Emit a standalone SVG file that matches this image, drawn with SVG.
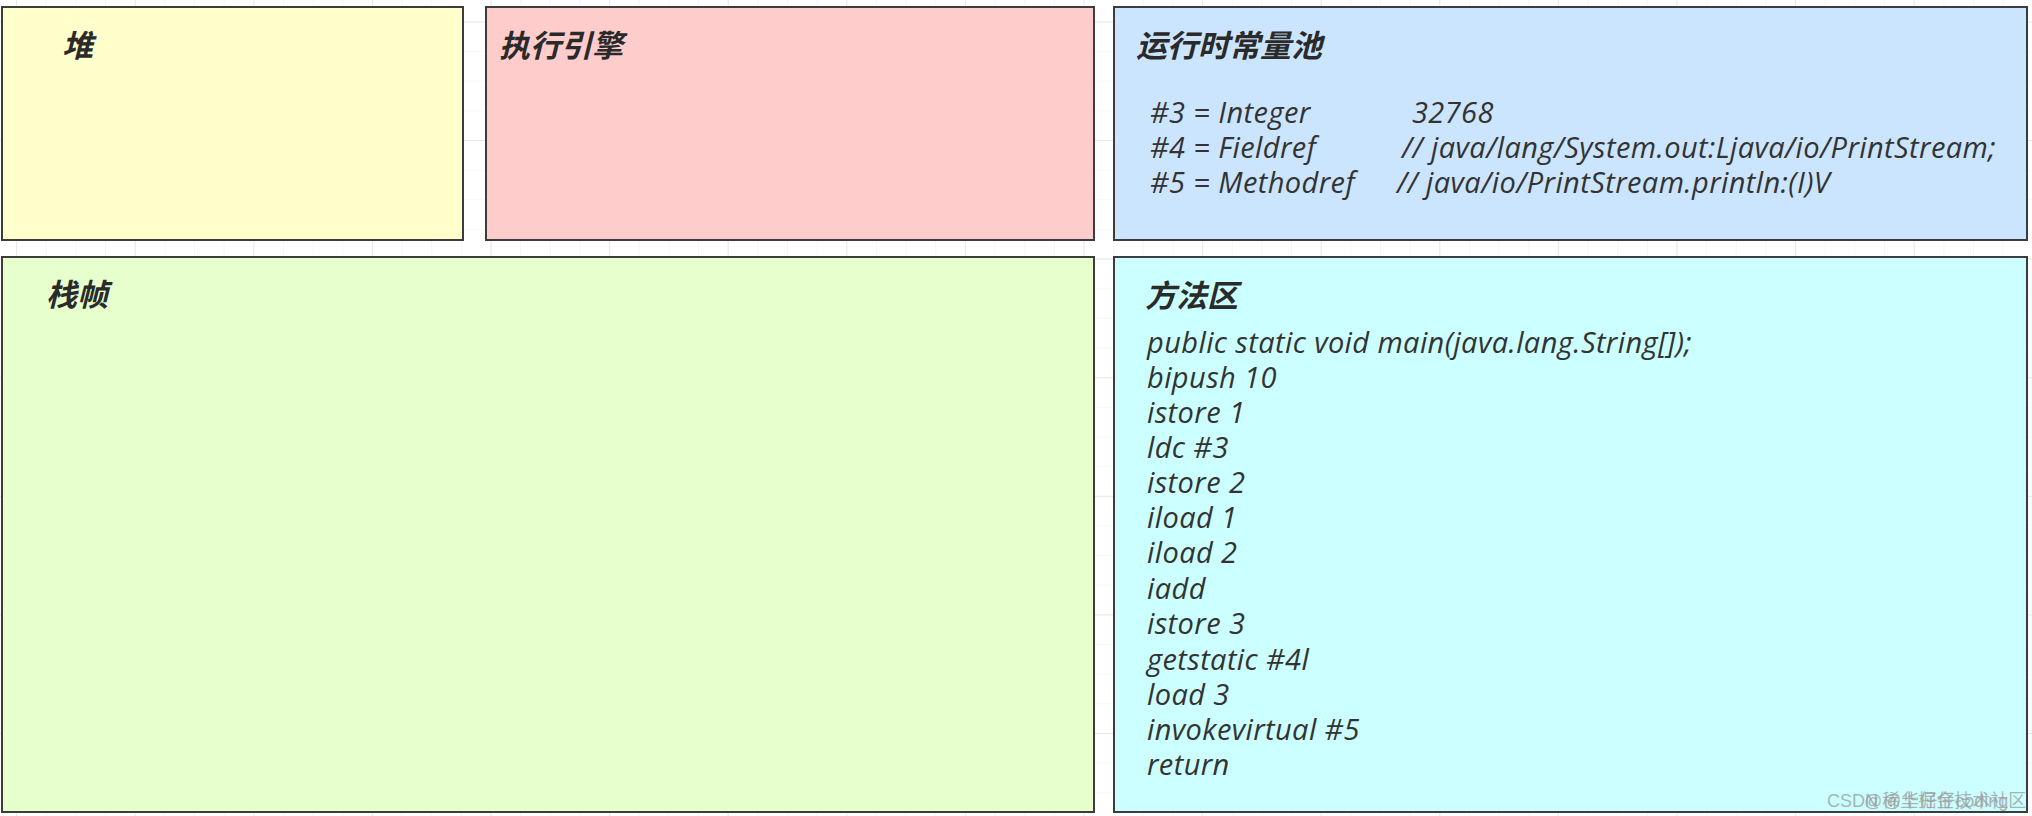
<svg xmlns="http://www.w3.org/2000/svg" width="2032" height="816" viewBox="0 0 2032 816">
  <defs>
    <pattern id="minor" x="16.1" y="21.4" width="29.65" height="29.65" patternUnits="userSpaceOnUse">
      <path d="M0 0 V29.65 M0 0 H29.65" fill="none" stroke="#f1f1f1" stroke-width="1.2"/>
    </pattern>
    <pattern id="major" x="16.1" y="21.4" width="118.6" height="118.6" patternUnits="userSpaceOnUse">
      <path d="M0 0 V118.6 M0 0 H118.6" fill="none" stroke="#e2e2e2" stroke-width="1.4"/>
    </pattern>
    <style>
      .box { stroke: #3c3c3c; stroke-width: 2; }
      .title { font-family: "Noto Sans CJK SC", "Noto Sans CJK TC", sans-serif; font-size: 31px; font-weight: bold; font-style: italic; fill: #2a2a2a; }
      .code { font-family: "Open Sans", "Noto Sans", sans-serif; font-size: 29px; letter-spacing: 0.4px; font-style: italic; fill: #333333; }
      .wm { font-family: "Liberation Sans", "Noto Sans CJK SC", sans-serif; font-size: 18px; fill: #9a9a9a; fill-opacity: 0.75; }
    </style>
  </defs>

  <rect x="0" y="0" width="2032" height="816" fill="#ffffff"/>
  <rect x="0" y="0" width="2032" height="816" fill="url(#minor)"/>
  <rect x="0" y="0" width="2032" height="816" fill="url(#major)"/>

  <g id="heap">
    <rect class="box" x="2" y="7" width="461" height="233" fill="#FFFFCC"/>
    <text class="title" x="62" y="57">堆</text>
  </g>

  <g id="execution-engine">
    <rect class="box" x="486" y="7" width="608" height="233" fill="#FFCCCC"/>
    <text class="title" x="499" y="57">执行引擎</text>
  </g>

  <g id="runtime-constant-pool">
    <rect class="box" x="1114" y="7" width="913" height="233" fill="#CCE5FF"/>
    <text class="title" x="1136" y="57">运行时常量池</text>
    <text class="code" x="1150" y="123">#3 = Integer</text>
    <text class="code" x="1412" y="123">32768</text>
    <text class="code" x="1150" y="158">#4 = Fieldref</text>
    <text class="code" x="1402" y="158">// java/lang/System.out:Ljava/io/PrintStream;</text>
    <text class="code" x="1150" y="193">#5 = Methodref</text>
    <text class="code" x="1397" y="193">// java/io/PrintStream.println:(I)V</text>
  </g>

  <g id="stack-frame">
    <rect class="box" x="2" y="257" width="1092" height="555" fill="#E6FFCC"/>
    <text class="title" x="46" y="306">栈帧</text>
  </g>

  <g id="method-area">
    <rect class="box" x="1114" y="257" width="913" height="555" fill="#CCFFFF"/>
    <text class="title" x="1145" y="307">方法区</text>
    <text class="code" x="1147" y="353">public static void main(java.lang.String[]);</text>
    <text class="code" x="1147" y="388">bipush 10</text>
    <text class="code" x="1147" y="423">istore 1</text>
    <text class="code" x="1147" y="458">ldc #3</text>
    <text class="code" x="1147" y="493">istore 2</text>
    <text class="code" x="1147" y="528">iload 1</text>
    <text class="code" x="1147" y="563">iload 2</text>
    <text class="code" x="1147" y="599">iadd</text>
    <text class="code" x="1147" y="634">istore 3</text>
    <text class="code" x="1147" y="670">getstatic #4l</text>
    <text class="code" x="1147" y="705">load 3</text>
    <text class="code" x="1147" y="740">invokevirtual #5</text>
    <text class="code" x="1147" y="775">return</text>
  </g>

  <g id="connectors"></g>

  <g id="watermark">
    <text class="wm" y="807"><tspan x="1827">CSDN @华仔仔coding</tspan><tspan x="1864">@稀土掘金技术社区</tspan></text>
  </g>
</svg>
